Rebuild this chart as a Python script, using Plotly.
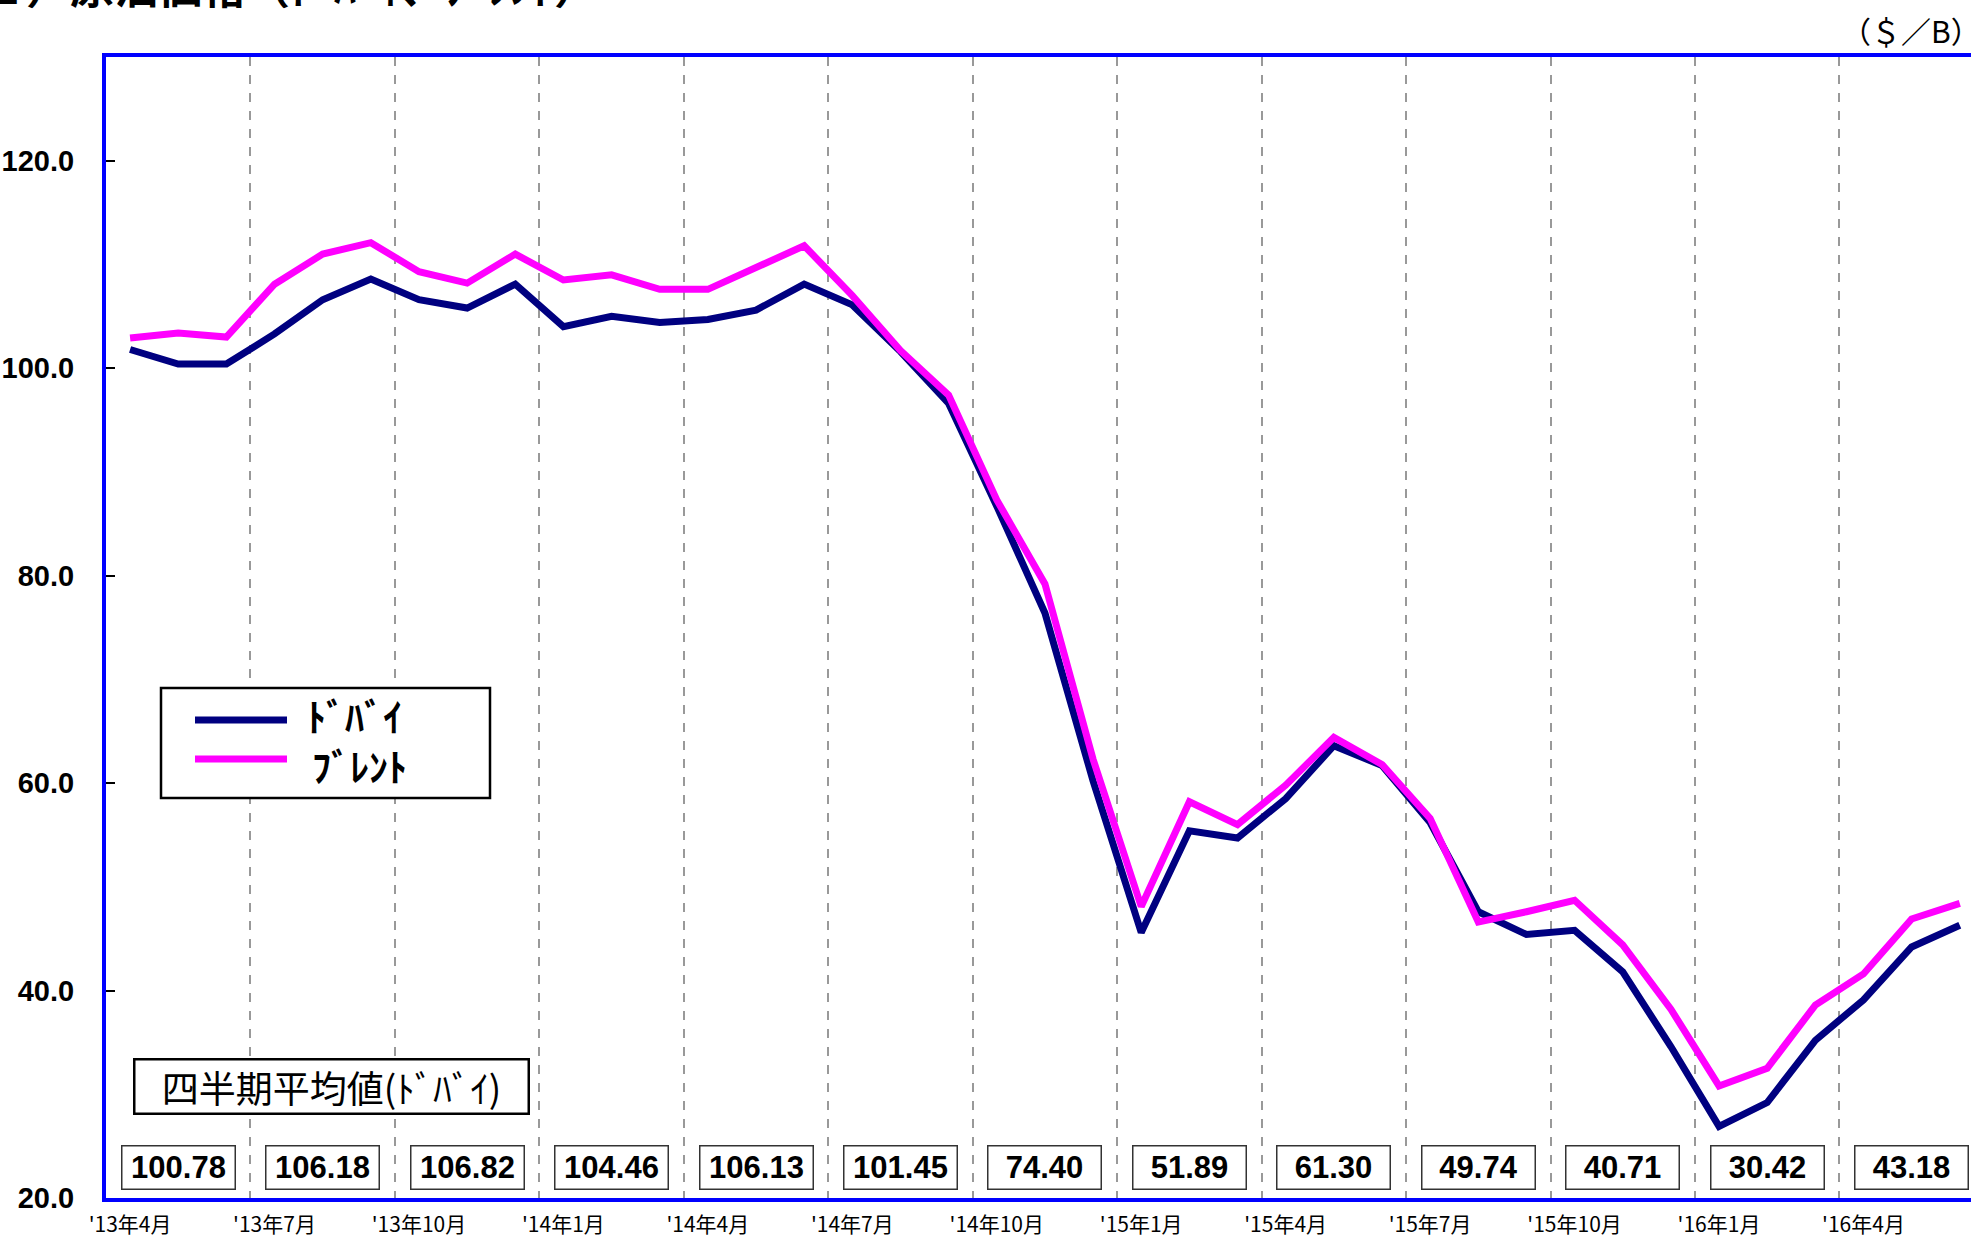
import plotly.graph_objects as go

# ---------------- data ----------------
month_index = list(range(39))  # 2013-04 ... 2016-06
tick_idx = [0, 3, 6, 9, 12, 15, 18, 21, 24, 27, 30, 33, 36]
tick_labels = ["'13年4月", "'13年7月", "'13年10月", "'14年1月", "'14年4月", "'14年7月",
               "'14年10月", "'15年1月", "'15年4月", "'15年7月", "'15年10月", "'16年1月", "'16年4月"]

dubai = [101.8, 100.4, 100.4, 103.3, 106.6, 108.6, 106.6, 105.8, 108.1,
         104.0, 105.0, 104.4, 104.7, 105.6, 108.1, 106.1, 101.6, 96.6,
         86.7, 76.4, 60.2, 45.6, 55.4, 54.7, 58.5, 63.6, 61.7,
         56.2, 47.6, 45.4, 45.8, 41.8, 34.6, 26.9, 29.2, 35.2,
         39.1, 44.2, 46.3]
brent = [102.9, 103.4, 103.0, 108.1, 111.0, 112.1, 109.3, 108.2, 111.0,
         108.5, 109.0, 107.6, 107.6, 109.7, 111.8, 107.0, 101.7, 97.4,
         87.3, 79.2, 62.3, 48.1, 58.2, 56.0, 59.8, 64.4, 61.8,
         56.6, 46.6, 47.6, 48.7, 44.4, 38.2, 30.8, 32.5, 38.6,
         41.6, 46.9, 48.4]
quarter_avg = ["100.78", "106.18", "106.82", "104.46", "106.13", "101.45", "74.40",
               "51.89", "61.30", "49.74", "40.71", "30.42", "43.18"]
series_names = ["ﾄﾞﾊﾞｲ", "ﾌﾞﾚﾝﾄ"]

# ---------------- geometry ----------------
W, H = 1971, 1238
L, R, T, B = 106, 0, 57, 40
PW, PH = W - L - R, H - T - B
month_px = 48.15
x_max = -0.5 + PW / month_px


def px(x):
    return (x - L) / PW


def py(y):
    return (T + PH - y) / PH


NAVY = "#000080"
MAGENTA = "#FF00FF"
BLUE = "#0000FF"
CJK = "Noto Sans CJK JP"
NUM = "Liberation Sans, Arial"

fig = go.Figure()
fig.add_trace(go.Scatter(x=month_index, y=dubai, mode="lines", name=series_names[0],
                         line=dict(color=NAVY, width=7), showlegend=False))
fig.add_trace(go.Scatter(x=month_index, y=brent, mode="lines", name=series_names[1],
                         line=dict(color=MAGENTA, width=7), showlegend=False))

annotations = []
shapes = []
# quarterly average boxes (+ small white notch on the axis under each)
for k, v in enumerate(quarter_avg):
    qx = 1 + 3 * k
    annotations.append(dict(
        x=qx, y=22.9, xref="x", yref="y", text=v, showarrow=False,
        font=dict(family=NUM, size=31, color="black", weight="bold"),
        bgcolor="white", bordercolor="#333333", borderwidth=1.5, borderpad=1,
        width=110, height=40, xanchor="center", yanchor="middle"))
    shapes.append(dict(type="line", xref="x", yref="paper", x0=qx - 0.21, x1=qx + 0.21,
                       y0=py(1196.3), y1=py(1196.3), line=dict(color="white", width=2.5),
                       layer="above"))

# quarterly average label box
annotations.append(dict(
    x=px(331), y=py(1086), xref="paper", yref="paper", text="四半期平均値(ﾄﾞﾊﾞｲ)",
    showarrow=False, font=dict(family=CJK, size=37, color="black"),
    bgcolor="white", bordercolor="black", borderwidth=2.5, borderpad=1,
    width=390, height=50, xanchor="center", yanchor="middle"))

# manual legend text
annotations.append(dict(
    x=px(305), y=py(714), xref="paper", yref="paper", text=series_names[0],
    showarrow=False, xanchor="left", yanchor="middle",
    font=dict(family=CJK, size=38, color="black", weight="bold")))
annotations.append(dict(
    x=px(310), y=py(764), xref="paper", yref="paper", text=series_names[1],
    showarrow=False, xanchor="left", yanchor="middle",
    font=dict(family=CJK, size=38, color="black", weight="bold")))

# unit
annotations.append(dict(
    x=1, y=1, xref="paper", yref="paper", text="（＄／B）", showarrow=False,
    xanchor="right", yanchor="middle", xshift=12, yshift=27,
    font=dict(family=CJK, size=30, color="black")))

# title (cropped at the top of the picture)
annotations.append(dict(
    x=px(600), y=1, xref="paper", yref="paper", text="（１）原油価格（ﾄﾞﾊﾞｲ、ﾌﾞﾚﾝﾄ）",
    showarrow=False, xanchor="right", yanchor="bottom", yshift=38,
    font=dict(family=CJK, size=44, color="black", weight="bold")))

shapes += [
    dict(type="rect", xref="paper", yref="paper", x0=px(161), x1=px(490), y0=py(798), y1=py(688),
         line=dict(color="black", width=2.5), fillcolor="white", layer="above"),
    dict(type="line", xref="paper", yref="paper", x0=px(195), x1=px(287), y0=py(720), y1=py(720),
         line=dict(color=NAVY, width=7), layer="above"),
    dict(type="line", xref="paper", yref="paper", x0=px(195), x1=px(287), y0=py(759), y1=py(759),
         line=dict(color=MAGENTA, width=7), layer="above"),
]

fig.update_layout(
    template="none",
    width=W, height=H,
    margin=dict(l=L, r=R, t=T, b=B, pad=0, autoexpand=False),
    paper_bgcolor="white", plot_bgcolor="white",
    showlegend=False,
    annotations=annotations,
    shapes=shapes,
    xaxis=dict(
        automargin=False,
        range=[-0.5, x_max], tickmode="array", tickvals=tick_idx, ticktext=tick_labels,
        showgrid=False, zeroline=False, showline=True, linecolor=BLUE, linewidth=4, mirror=True,
        ticks="", ticklabelstandoff=5,
        tickfont=dict(family=CJK, size=21, color="black"),
        minor=dict(tickmode="array", tickvals=[i + 2.5 for i in tick_idx[:-1]] + [38.5],
                   showgrid=True, gridcolor="#999999", gridwidth=2, griddash="dash", ticks=""),
    ),
    yaxis=dict(
        automargin=False,
        range=[20, 130], tickmode="linear", tick0=20, dtick=20, tickformat=".1f",
        showgrid=False, zeroline=False, showline=True, linecolor=BLUE, linewidth=4, mirror=False,
        ticks="inside", ticklen=9, tickwidth=1.5, tickcolor="black", ticklabelstandoff=22,
        tickfont=dict(family=NUM, size=29, color="black", weight="bold"),
    ),
)

fig.write_html("out.html", config={"displayModeBar": False},
               post_script="document.body.style.margin='0px';document.body.style.overflow='hidden';")
